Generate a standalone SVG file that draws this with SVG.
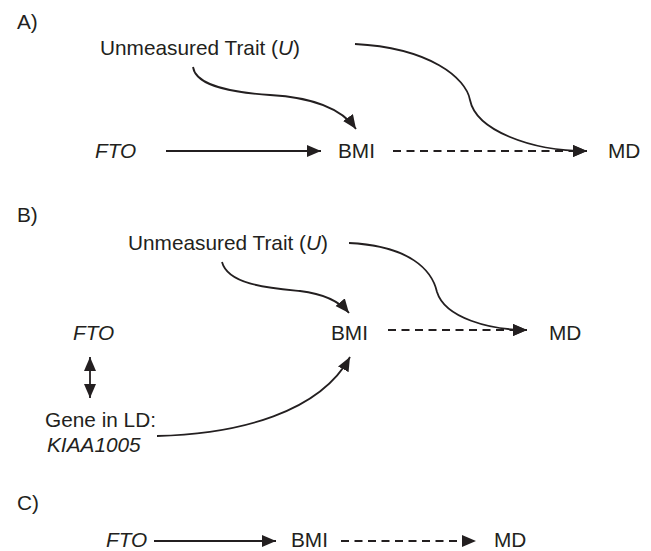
<svg xmlns="http://www.w3.org/2000/svg" width="651" height="551" viewBox="0 0 651 551">
<style>
text{font-family:"Liberation Sans",Arial,sans-serif;font-size:20.8px;fill:#231f20}
.i{font-style:italic}
.c{fill:none;stroke:#231f20;stroke-width:1.8}
.d{stroke-dasharray:8 5.5}
</style>
<defs>
<marker id="ah" markerUnits="userSpaceOnUse" markerWidth="15" markerHeight="13" refX="14" refY="6" orient="auto-start-reverse" viewBox="0 0 15 13">
<path d="M0,0 L14,6 L0,12 z" fill="#231f20"/>
</marker>
</defs>
<g id="panelA">
<text x="17" y="29">A)</text>
<g id="A-U"><text x="100" y="55">Unmeasured Trait (<tspan class="i">U</tspan>)</text></g>
<g id="A-FTO"><text class="i" x="95" y="158">FTO</text></g>
<g id="A-BMI"><text x="338" y="158">BMI</text></g>
<g id="A-MD"><text x="608" y="158">MD</text></g>
</g>
<g id="panelB">
<text x="17" y="222">B)</text>
<g id="B-U"><text x="128" y="250">Unmeasured Trait (<tspan class="i">U</tspan>)</text></g>
<g id="B-FTO"><text class="i" x="73" y="340">FTO</text></g>
<g id="B-BMI"><text x="331" y="340">BMI</text></g>
<g id="B-MD"><text x="549" y="340">MD</text></g>
<g id="B-Gene"><text x="45" y="427">Gene in LD:</text><text class="i" x="47" y="452">KIAA1005</text></g>
</g>
<g id="panelC">
<text x="17" y="510">C)</text>
<g id="C-FTO"><text class="i" x="106" y="547">FTO</text></g>
<g id="C-BMI"><text x="291" y="547">BMI</text></g>
<g id="C-MD"><text x="494" y="547">MD</text></g>
</g>
<g id="connectors">
<path class="c" d="M166,151 L321,151" marker-end="url(#ah)"/>
<path class="c d" d="M393,151 L587,151" marker-end="url(#ah)"/>
<path class="c" d="M355,44 C430,48 466,78 470,100 C476,130 530,151 587,151" marker-end="url(#ah)"/>
<path class="c" d="M193,67 C196,88 240,93 270,95 C305,97 340,106 356,129" marker-end="url(#ah)"/>
<path class="c d" d="M388,330 L527,330" marker-end="url(#ah)"/>
<path class="c" d="M349,243 C410,246 432,270 437,292 C445,318 490,330 527,330" marker-end="url(#ah)"/>
<path class="c" d="M222,262 C228,285 270,288 300,291 C325,294 340,302 349,313" marker-end="url(#ah)"/>
<path class="c" d="M157,436 C240,434 320,412 350,357" marker-end="url(#ah)"/>
<path class="c" d="M90,357 L90,398" marker-start="url(#ah)" marker-end="url(#ah)"/>
<path class="c" d="M154,541 L276,541" marker-end="url(#ah)"/>
<path class="c d" d="M341,541 L476,541" marker-end="url(#ah)"/>
</g>
</svg>
